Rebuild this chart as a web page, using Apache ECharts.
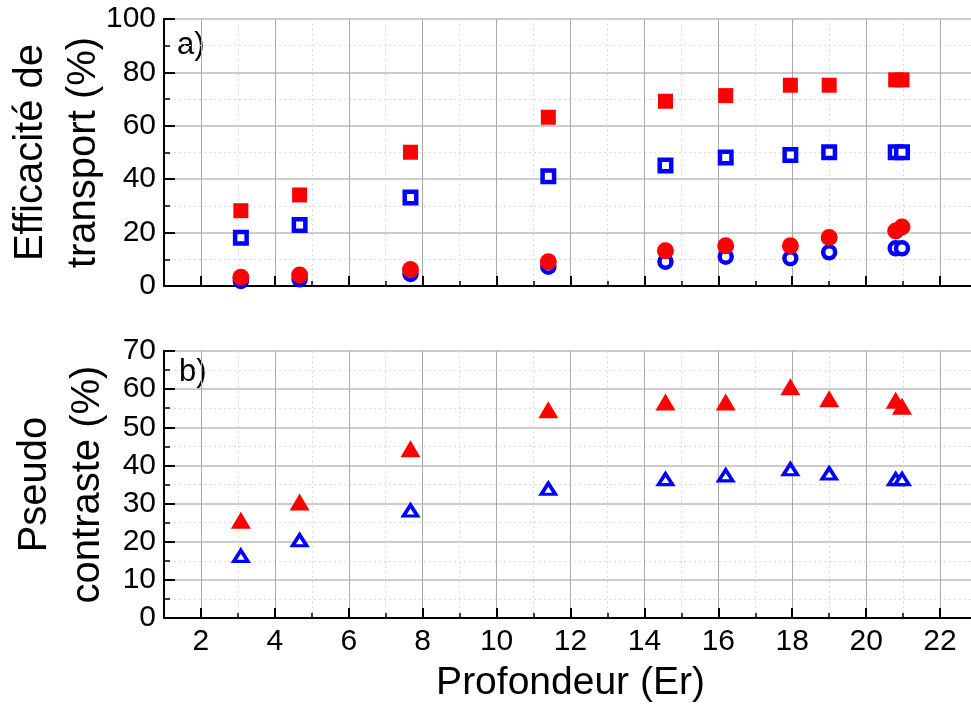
<!DOCTYPE html>
<html>
<head>
<meta charset="utf-8">
<script src="https://cdn.jsdelivr.net/npm/echarts@6/dist/echarts.min.js"></script>
<style>
html,body{margin:0;padding:0;background:#fff;}
#chart{width:971px;height:710px;}
</style>
</head>
<body>
<div id="chart"></div>
<script>
// Depth positions (Er)
const depth = [3.08, 4.67, 7.67, 11.4, 14.57, 16.2, 17.95, 19.0, 20.8, 20.97];
// Panel a) transport efficiency (%)
const effSquareRed = [28.2, 34.1, 50.1, 63.2, 69.2, 71.3, 75.2, 75.2, 77.2, 77.2];
const effSquareBlue = [18.1, 22.8, 33.1, 41.1, 45.1, 48.1, 49.1, 50.1, 50.1, 50.1];
const effCircleRed = [3.3, 4.1, 6.2, 9.1, 13.2, 15.1, 15.1, 18.2, 20.6, 22.1];
const effCircleBlue = [1.9, 2.5, 4.5, 7.2, 9.1, 11.0, 10.4, 12.6, 14.1, 14.1];
// Panel b) pseudo contrast (%)
const contrastRed = [25.6, 30.4, 44.4, 54.6, 56.6, 56.6, 60.6, 57.5, 57.1, 55.5];
const contrastBlue = [16.3, 20.4, 28.2, 33.9, 36.4, 37.4, 39.0, 37.9, 36.4, 36.4];
// Axis ranges / ticks
const xRange = [1, 23];
const yTopRange = [0, 100], yTopStep = 20;
const yBotRange = [0, 70], yBotStep = 10;

const pair = (ys) => depth.map((x, i) => [x, ys[i]]);
const FONT = 'Liberation Sans, Arial, sans-serif';
const RED = '#ff0000', BLUE = '#0000ff';

function xAxisCfg(gridIndex, showLabels, name) {
  return {
    type: 'value', gridIndex, min: xRange[0], max: xRange[1], splitNumber: 11,
    name: name || '', nameLocation: 'middle', nameGap: 46, nameMoveOverlap: false,
    nameTextStyle: { fontFamily: FONT, fontSize: 39, color: '#000' },
    axisLine: { show: true, onZero: false, lineStyle: { color: '#000', width: 2 } },
    axisTick: { show: true, inside: true, length: 10, lineStyle: { color: '#000', width: 2 } },
    minorTick: { show: true, splitNumber: 2, length: 5, lineStyle: { color: '#000', width: 1.5 } },
    axisLabel: { show: showLabels, fontFamily: FONT, fontSize: 30, color: '#000', margin: 9,
                 showMinLabel: false, showMaxLabel: false },
    splitLine: { show: true, lineStyle: { color: '#a8a8a8', width: 1 } },
    minorSplitLine: { show: true, lineStyle: { color: '#dcdcdc', width: 1, type: [2, 3] } }
  };
}
function yAxisCfg(gridIndex, range, step, name, gap) {
  return {
    type: 'value', gridIndex, min: range[0], max: range[1], interval: step,
    name, nameLocation: 'middle', nameRotate: 90, nameGap: gap, nameMoveOverlap: false,
    nameTextStyle: { fontFamily: FONT, fontSize: 40, color: '#000', lineHeight: 53 },
    axisLine: { show: true, onZero: false, lineStyle: { color: '#000', width: 2 } },
    axisTick: { show: true, inside: true, length: 11, lineStyle: { color: '#000', width: 2 } },
    minorTick: { show: true, splitNumber: 2, length: 6, lineStyle: { color: '#000', width: 1.5 } },
    axisLabel: { fontFamily: FONT, fontSize: 30, color: '#000', margin: 8 },
    splitLine: { show: true, lineStyle: { color: '#cccccc', width: 2 } },
    minorSplitLine: { show: true, lineStyle: { color: '#dcdcdc', width: 1, type: [2, 3] } }
  };
}
function filled(name, xi, data, symbol, size, color) {
  return { type: 'scatter', name, xAxisIndex: xi, yAxisIndex: xi, data, symbol, symbolSize: size,
           itemStyle: { color, opacity: 1 }, emphasis: { disabled: true }, z: 3 };
}
function open(name, xi, data, symbol, size, color, bw) {
  return { type: 'scatter', name, xAxisIndex: xi, yAxisIndex: xi, data, symbol, symbolSize: size,
           itemStyle: { color: '#fff', borderColor: color, borderWidth: bw, opacity: 1 },
           emphasis: { disabled: true }, z: 2 };
}

const chart = echarts.init(document.getElementById('chart'), null, { renderer: 'canvas' });
chart.setOption({
  animation: false,
  backgroundColor: '#fff',
  grid: [
    { left: 164, top: 19, width: 813, height: 267, show: true, borderColor: '#000', borderWidth: 2,
      backgroundColor: 'transparent', containLabel: false, outerBoundsMode: 'none' },
    { left: 164, top: 351, width: 813, height: 267, show: true, borderColor: '#000', borderWidth: 2,
      backgroundColor: 'transparent', containLabel: false, outerBoundsMode: 'none' }
  ],
  xAxis: [ xAxisCfg(0, false), xAxisCfg(1, true, 'Profondeur (Er)') ],
  yAxis: [
    yAxisCfg(0, yTopRange, yTopStep, 'Efficacité de\ntransport (%)', 54),
    yAxisCfg(1, yBotRange, yBotStep, 'Pseudo\ncontraste (%)', 50)
  ],
  graphic: [
    { type: 'text', left: 177, top: 30, style: { text: 'a)', fontFamily: FONT, fontSize: 31, fill: '#000' } },
    { type: 'text', left: 179, top: 357, style: { text: 'b)', fontFamily: FONT, fontSize: 31, fill: '#000' } }
  ],
  series: [
    open('effSquareBlue', 0, pair(effSquareBlue), 'rect', 11.5, BLUE, 4.5),
    filled('effSquareRed', 0, pair(effSquareRed), 'rect', 15, RED),
    open('effCircleBlue', 0, pair(effCircleBlue), 'circle', 12, BLUE, 4.5),
    filled('effCircleRed', 0, pair(effCircleRed), 'circle', 17, RED),
    open('contrastBlue', 1, pair(contrastBlue), 'triangle', [14, 11], BLUE, 3.5),
    filled('contrastRed', 1, pair(contrastRed), 'triangle', [20, 17], RED)
  ]
});
</script>
</body>
</html>
